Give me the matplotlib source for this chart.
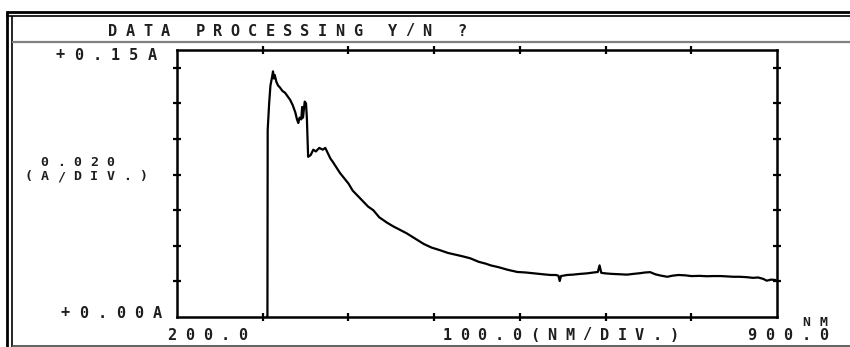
import matplotlib
matplotlib.use('Agg')
import matplotlib.pyplot as plt
from matplotlib.lines import Line2D

W, H = 850, 347

# absorbance trace, wavelength in nm and absorbance in A
wl = [305.0, 305.5, 305.8, 307.5, 309, 311, 312, 313, 314, 316, 318, 320, 323, 326, 329,
      332, 335, 338, 340, 341.5, 343, 345, 346, 347, 349, 350.5, 351.5, 352.5, 353,
      356, 359, 362, 366, 370, 373, 376, 379, 382, 386, 390, 395, 400, 405, 411, 417,
      423, 429, 436, 445, 452, 460, 468, 478, 488, 497, 507, 516, 525, 534, 542, 552,
      560, 566, 575, 586, 597, 607, 617, 627, 636, 642, 645, 646.5, 648, 655, 662, 670,
      678, 686, 691, 693, 695, 700, 708, 717, 725, 732, 740, 746, 752, 758, 765, 772,
      778, 785, 793, 800, 810, 818, 826, 834, 842, 849, 856, 864, 872, 878, 884, 888,
      893, 898]
absorb = [0.0, 0.0, 0.105, 0.120, 0.130, 0.135, 0.138, 0.134, 0.136, 0.132, 0.130, 0.129,
          0.127, 0.126, 0.124, 0.122, 0.119, 0.115, 0.111, 0.109, 0.112, 0.111, 0.118,
          0.112, 0.121, 0.120, 0.112, 0.097, 0.090, 0.091, 0.094, 0.093, 0.095, 0.094,
          0.095, 0.092, 0.089, 0.087, 0.084, 0.081, 0.078, 0.075, 0.071, 0.068, 0.065,
          0.062, 0.060, 0.056, 0.053, 0.051, 0.049, 0.047, 0.044, 0.041, 0.039, 0.0375,
          0.036, 0.035, 0.034, 0.033, 0.031, 0.030, 0.029, 0.028, 0.0265, 0.0253, 0.025,
          0.0245, 0.024, 0.0236, 0.0236, 0.0232, 0.0202, 0.023, 0.0236, 0.0238, 0.0242,
          0.0245, 0.025, 0.0253, 0.029, 0.0248, 0.0245, 0.0242, 0.024, 0.0238, 0.0242,
          0.0246, 0.025, 0.0252, 0.024, 0.0232, 0.0226, 0.0232, 0.0236, 0.0234, 0.023,
          0.0231, 0.0229, 0.023, 0.023, 0.0228, 0.0226, 0.0226, 0.0224, 0.022, 0.0222,
          0.0214, 0.0204, 0.021, 0.0208]

x_min, x_max = 200.0, 900.0
y_min, y_max = 0.0, 0.15
x_ticks = [300, 400, 500, 600, 700, 800]
y_ticks = [0.02, 0.04, 0.06, 0.08, 0.10, 0.12, 0.14]

ink = '#1e1e1e'

fig = plt.figure(figsize=(W / 100, H / 100), dpi=100)
fig.patch.set_facecolor('white')


def px(x, y):
    return x / W, 1 - y / H


def put(s, x, y, pitch, size=11):
    # fixed-pitch characters, like the plotter's own lettering
    for i, ch in enumerate(s):
        fx, fy = px(x + i * pitch, y)
        fig.text(fx, fy, ch, ha='center', va='center', family='DejaVu Sans Mono',
                 weight='bold', size=size, color=ink)


def hline(y, x0, x1, lw, color):
    fig.add_artist(Line2D([x0 / W, x1 / W], [1 - y / H, 1 - y / H], lw=lw, color=color,
                          transform=fig.transFigure, solid_capstyle='butt'))


def vline(x, y0, y1, lw, color):
    fig.add_artist(Line2D([x / W, x / W], [1 - y0 / H, 1 - y1 / H], lw=lw, color=color,
                          transform=fig.transFigure, solid_capstyle='butt'))


# screen frame
hline(11.5, 6, W, 2.0, 'black')
hline(16, 6, W, 1.2, 'black')
vline(7, 10.5, H, 2.0, 'black')
vline(11.5, 15.5, H, 1.2, 'black')
hline(42, 12, W, 1.6, '#808080')
hline(345.5, 12, W, 1.3, '#555555')

ax = fig.add_axes([177 / W, 1 - 317 / H, 600 / W, 267 / H])
ax.plot(wl, absorb, color='black', lw=1.6, solid_joinstyle='round')
ax.set_xlim(x_min, x_max)
ax.set_ylim(y_min, y_max)
ax.set_xticks(x_ticks)
ax.set_yticks(y_ticks)
ax.tick_params(direction='inout', length=6, width=1.6, color='black',
               top=True, right=True, labelbottom=False, labelleft=False)
for sp in ax.spines.values():
    sp.set_linewidth(1.8)
    sp.set_color('black')

put('DATA PROCESSING Y/N ?', 113, 31, 17.45)
put('+0.15A', 60, 55, 18.4)
put('+0.00A', 65, 313, 18.4)
put('0.020', 44.5, 162, 16.5, size=9.5)
put('(A/DIV.)', 28, 176.5, 16.5, size=9.5)
put('200.0', 172, 335, 17.75)
put('100.0(NM/DIV.)', 447, 335, 17.5)
put('900.0', 752, 335, 18)
put('NM', 806, 322, 17, size=9.5)

fig.savefig('out.png', dpi=100)
